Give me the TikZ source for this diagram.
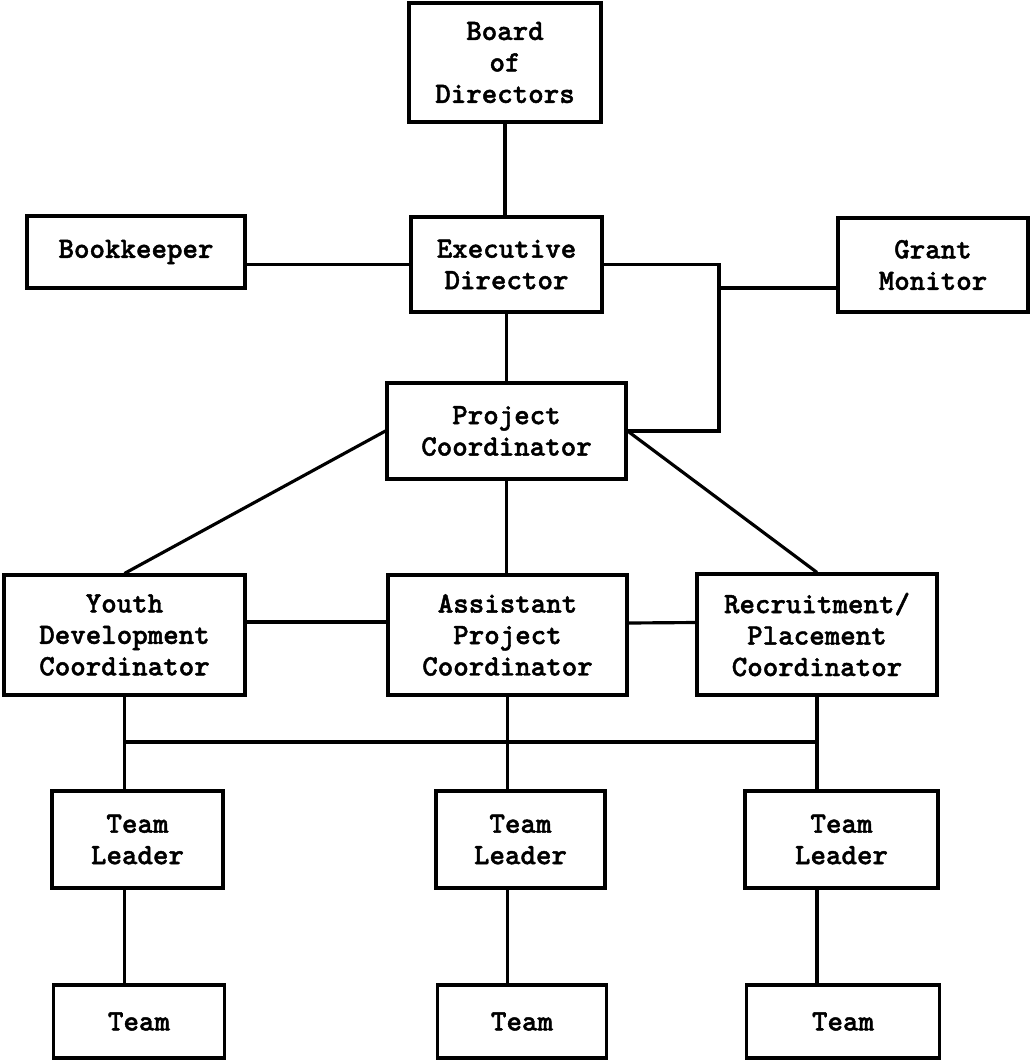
\documentclass[tikz,border=0pt]{standalone}
\usepackage{fontspec}
\usepackage{tikz}
\usepackage{xcolor}
\newfontfamily\chartfont[FakeBold=1.5]{lmmonolt10-bold.otf}
\newcommand*{\BoxFont}{\chartfont\fontsize{16.8}{17.9}\selectfont}

\begin{document}
\begin{tikzpicture}[x=0.02cm, y=-0.02cm,
    box/.style={draw, line width=1.8pt, align=center, inner sep=0pt, font=\BoxFont},
    link/.style={line width=1.8pt}]
    \useasboundingbox (0,0) rectangle (1030,1062);
    % top levels
    \node[box, minimum width=3.84cm, minimum height=2.38cm] (board) at (505,62.5) {Board\\of\\Directors};
    \node[box, minimum width=3.82cm, minimum height=1.90cm] (exec) at (506.5,264.5) {Executive\\Director};
    \node[box, minimum width=4.36cm, minimum height=1.44cm] (book) at (136,252) {Bookkeeper};
    \node[box, minimum width=3.80cm, minimum height=1.88cm] (grant) at (933,265) {Grant\\Monitor};
    \node[box, minimum width=4.78cm, minimum height=1.92cm] (pc) at (506.5,431) {Project\\Coordinator};
    % coordinators
    \node[box, minimum width=4.82cm, minimum height=2.40cm] (yd) at (124.5,635) {Youth\\Development\\Coordinator};
    \node[box, minimum width=4.78cm, minimum height=2.40cm] (apc) at (507.5,635) {Assistant\\Project\\Coordinator};
    \node[box, minimum width=4.80cm, minimum height=2.42cm] (rpc) at (817,634.5) {Recruitment/\\Placement\\Coordinator};
    \coordinate (gbus) at (719,288);
    \coordinate (tbus) at (507,742);

    \draw[link] (board.south) -- (board.south |- exec.north);
    \draw[link] (exec.west -| book.east) -- (exec.west);
    \draw[link] (exec.east) -| (gbus |- pc.east) -- (pc.east);
    \draw[link] (grant.west |- gbus) -- (gbus);
    \draw[link] (exec.south) -- (exec.south |- pc.north);
    \draw[link] (pc.west) -- (yd.north);
    \draw[link] (pc.east) -- (rpc.north);
    \draw[link] (pc.south) -- (pc.south |- apc.north);
    \draw[link] ([yshift=0.26cm]yd.east) -- ([yshift=0.26cm]apc.west);
    \draw[link] ([yshift=0.24cm]apc.east) -- ([yshift=0.24cm]rpc.west);
    \draw[link] (yd.south |- tbus) -- (rpc.south |- tbus);

    % team leaders and teams
    \foreach \n/\x/\w/\up in {1/137.5/3.42/yd, 2/520.5/3.38/apc, 3/841.5/3.86/rpc} {
        \node[box, minimum width=\w cm, minimum height=1.94cm] (tl\n) at (\x,839.5) {Team\\Leader};
        \node[box, minimum width=\w cm, minimum height=1.46cm] (team\n) at (\x+1.5,1021.5) {Team};
        \draw[link] (\up.south) -- (\up.south |- tl\n.north);
        \draw[link] (\up.south |- tl\n.south) -- (\up.south |- team\n.north);
    }
\end{tikzpicture}
\end{document}
